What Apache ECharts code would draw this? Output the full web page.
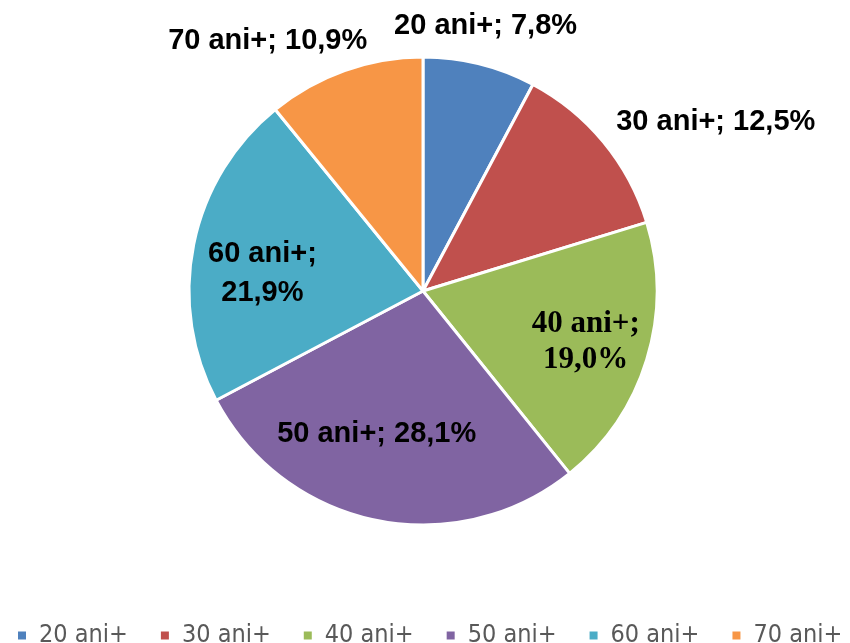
<!DOCTYPE html>
<html><head><meta charset="utf-8">
<script src="https://cdn.jsdelivr.net/npm/echarts@6/dist/echarts.min.js"></script>
<style>html,body{margin:0;padding:0;background:#fff}#c{width:850px;height:643px}</style>
</head><body><div id="c"></div>
<script>
const categories = ['20 ani+', '30 ani+', '40 ani+', '50 ani+', '60 ani+', '70 ani+'];
const values = [7.8, 12.5, 19.0, 28.1, 21.9, 10.9];
const colors = ['#4F81BD', '#C0504D', '#9BBB59', '#8064A2', '#4BACC6', '#F79646'];
const labelPlace = ['outside', 'outside', 'inside', 'inside', 'inside', 'outside'];
const labelBreak = [false, false, true, false, true, false];
// small nudges of each label away from the library's default spot
const labelNudge = [[-93, -28], [0, -14], [48, 16], [-22, 25], [-43, 6], [31, -20]];

const fmt = v => v.toFixed(1).replace('.', ',');
const chart = echarts.init(document.getElementById('c'));
const data = categories.map((n, i) => ({
  name: n,
  value: values[i],
  itemStyle: { color: colors[i] },
  label: {
    position: labelPlace[i],
    formatter: n + ';' + (labelBreak[i] ? '\n' : ' ') + fmt(values[i]) + '%',
    fontFamily: i === 2 ? 'Liberation Serif' : 'Liberation Sans',
    fontSize: i === 2 ? 31 : 29,
    lineHeight: i === 2 ? 36 : 39
  }
}));
chart.setOption({
  animation: false,
  legend: {
    data: categories,
    bottom: -5,
    left: 16,
    width: 834,
    padding: 0,
    icon: 'rect',
    itemWidth: 10,
    itemHeight: 10,
    itemGap: 31,
    textStyle: { fontFamily: 'DejaVu Sans Condensed, Liberation Sans', fontSize: 25, color: '#595959', padding: [0, 0, 0, 7] }
  },
  series: [{
    type: 'pie',
    center: [423, 291],
    radius: 234,
    startAngle: 90,
    clockwise: true,
    data: data,
    itemStyle: { borderColor: '#fff', borderWidth: 3 },
    label: { show: true, fontWeight: 'bold', color: '#000', align: 'center' },
    labelLine: { show: false, length: 10, length2: 0 },
    labelLayout: p => ({ dx: labelNudge[p.dataIndex][0], dy: labelNudge[p.dataIndex][1] })
  }]
});
</script></body></html>
